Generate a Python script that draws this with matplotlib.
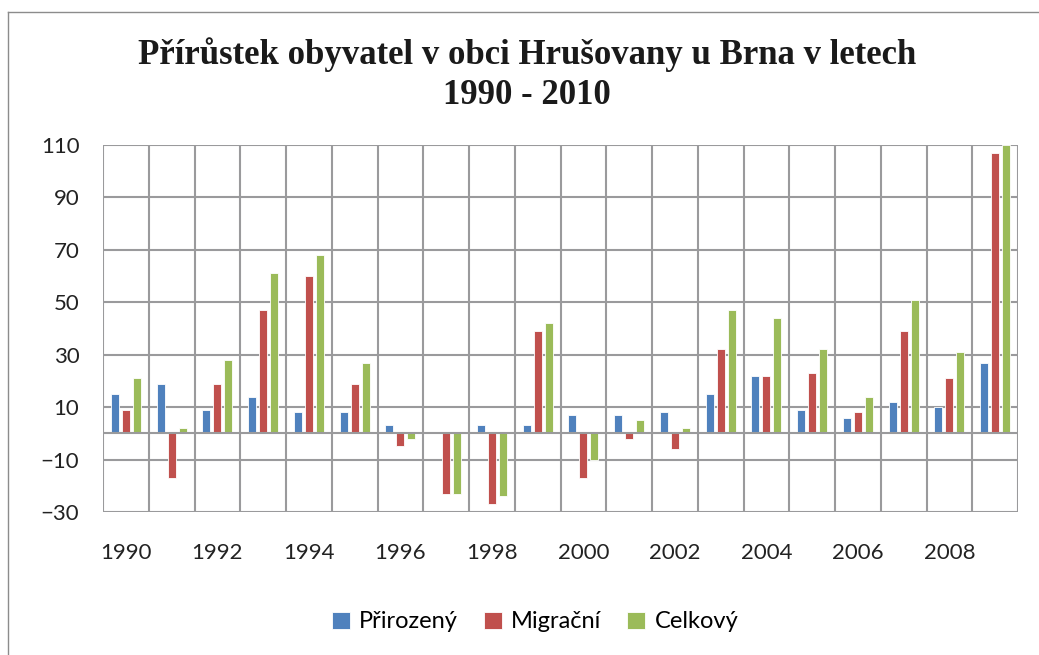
import matplotlib.pyplot as plt
import numpy as np
from matplotlib.lines import Line2D

# data
years = list(range(1990, 2010))
prirozeny = [15, 19, 9, 14, 8, 8, 3, 0, 3, 3, 7, 7, 8, 15, 22, 9, 6, 12, 10, 27]
migracni = [9, -17, 19, 47, 60, 19, -5, -23, -27, 39, -17, -2, -6, 32, 22, 23, 8, 39, 21, 107]
celkovy = [21, 2, 28, 61, 68, 27, -2, -23, -24, 42, -10, 5, 2, 47, 44, 32, 14, 51, 31, 110]
yticks = [-30, -10, 10, 30, 50, 70, 90, 110]

series = [("Přirozený", prirozeny, "#4F81BD"),
          ("Migrační", migracni, "#C0504D"),
          ("Celkový", celkovy, "#9BBB59")]

plt.rcParams['font.family'] = ['Lato', 'DejaVu Sans']
grid_c = "#9a9a9c"

fig = plt.figure(figsize=(10.39, 6.55), dpi=100)
ax = fig.add_axes([103/1039, 1-512/655, 915/1039, 367/655])

x = np.arange(len(years))
step = 0.24
w = 0.175
for i, (name, vals, col) in enumerate(series):
    ax.bar(x + (i-1)*step, vals, w, color=col, edgecolor="white",
           linewidth=0.6, label=name, zorder=3)

ax.set_xlim(-0.5, len(years)-0.5)
ax.set_ylim(-30, 110)
ax.set_yticks(yticks)
for v in yticks:
    ax.axhline(v, color=grid_c, lw=1.5, zorder=1)
ax.axhline(0, color=grid_c, lw=1.5, zorder=4)
for b in np.arange(-0.5, len(years), 1):
    ax.axvline(b, color=grid_c, lw=1.5, zorder=1)

ax.set_xticks(x[::2])
ax.set_xticklabels([str(y) for y in years[::2]])
ax.tick_params(axis='both', length=0, labelsize=16, colors="#222222")
ax.tick_params(axis='x', pad=22)
ax.tick_params(axis='y', pad=17)
for s in ax.spines.values():
    s.set_visible(False)

fig.text(0.507, 0.886, "Přírůstek obyvatel v obci Hrušovany u Brna v letech\n1990 - 2010",
         ha='center', va='center', fontsize=25, fontweight='bold',
         family='Liberation Serif', linespacing=1.28, color="#1a1a1a")

ax.legend(loc='center', bbox_to_anchor=(535/1039, 1-622/655), bbox_transform=fig.transFigure,
          ncol=3, frameon=False, fontsize=17, handlelength=0.75, handleheight=0.75,
          handletextpad=0.4, columnspacing=1.1)

# outer chart border (left and top edges visible)
fig.add_artist(Line2D([8/1039, 8/1039], [0, 1-12/655], transform=fig.transFigure, color="#8c8c8c", lw=1))
fig.add_artist(Line2D([8/1039, 1], [1-12/655, 1-12/655], transform=fig.transFigure, color="#8c8c8c", lw=1))

fig.savefig("out.png", dpi=100)
